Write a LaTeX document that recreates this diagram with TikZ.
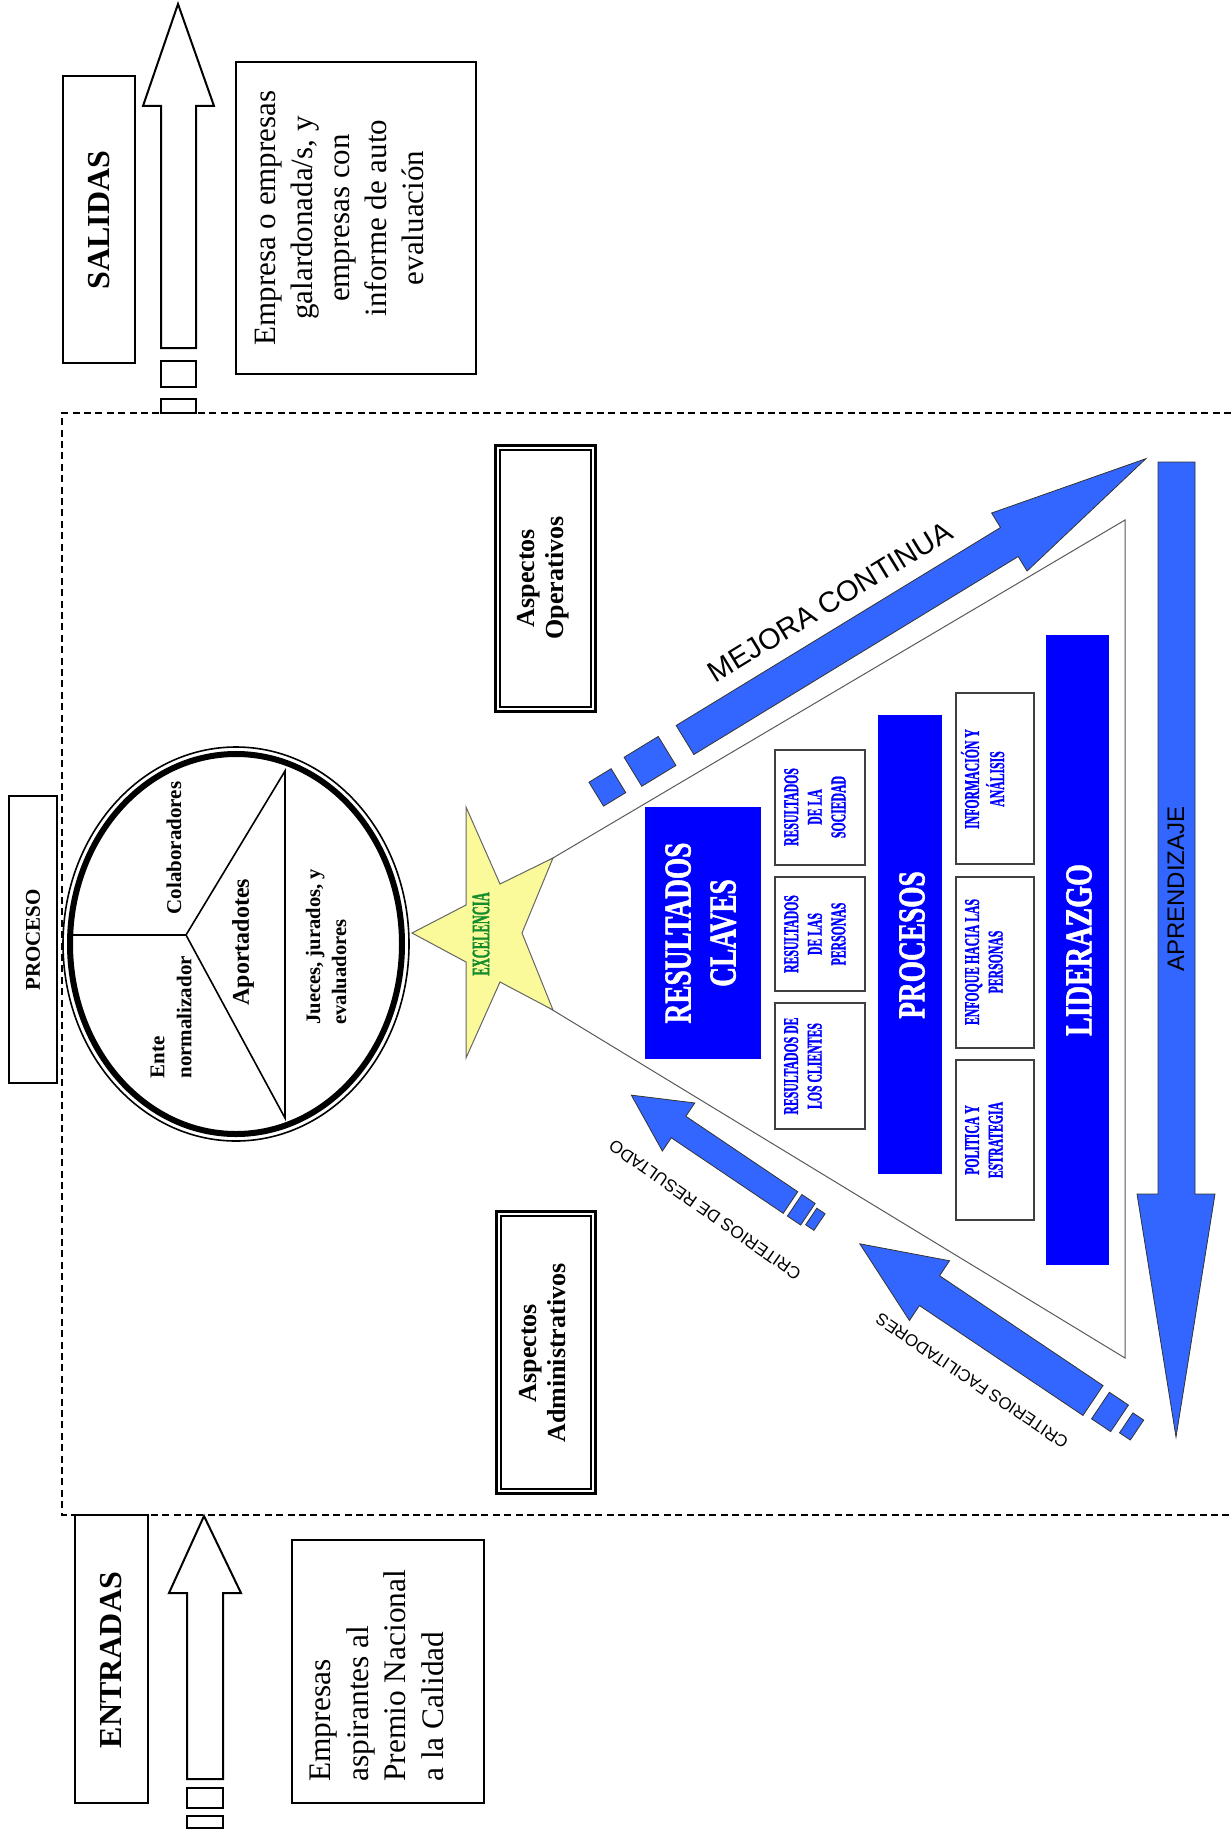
\documentclass[tikz,border=0pt]{standalone}
\usepackage{fontspec}
\setmainfont{Liberation Serif}
\newfontfamily\arial{Liberation Sans}
\newfontfamily\heavyserif{Liberation Serif Bold}[FakeBold=1.6]
\usepackage{graphicx}
\definecolor{pureblue}{RGB}{0,0,255}
\definecolor{flowblue}{RGB}{51,102,255}
\definecolor{starfill}{RGB}{250,250,155}
\definecolor{exgreen}{RGB}{20,140,45}
% condensed, centred block of lines
\newcommand{\condtxt}[2]{\scalebox{#1}[1]{\begin{tabular}{@{}c@{}}#2\end{tabular}}}
\begin{document}
\begin{tikzpicture}[x=0.5pt,y=-0.5pt,
  outline/.style={draw=black, line width=1pt},
  hollow/.style={draw=black, line width=1pt, fill=white},
  vlabel/.style={rotate=90, inner sep=0pt, align=center},
  bluebar/.style={fill=pureblue},
  critbox/.style={draw=black!75, line width=0.7pt, fill=white},
  critlabel/.style={rotate=90, inner sep=0pt, text=pureblue,
    font=\heavyserif\fontsize{10.5}{11.8}\selectfont},
  barlabel/.style={rotate=90, inner sep=0pt, text=white,
    font=\heavyserif\fontsize{19}{22.5}\selectfont},
  flowarrow/.style={fill=flowblue, draw=black!80, line width=0.4pt},
  frameline/.style={draw=black, line width=0.8pt, dash pattern=on 3.5pt off 2.2pt},
  edgeline/.style={draw=black!65, line width=0.5pt},
  dblouter/.style={draw=black, line width=1.4pt},
  dblinner/.style={draw=black, line width=0.8pt},
  arrowlabel/.style={inner sep=0pt},
]
\useasboundingbox (0,0) rectangle (1231,1835);

% ---------- outputs ----------
\draw[outline] (63,76) rectangle (135,363);
\node[vlabel, font=\bfseries\fontsize{16}{19}\selectfont] (salidas) at (99,220) {SALIDAS};
\draw[hollow] (161,348) -- (161,106) -- (143,106) -- (178,4) -- (214,106) -- (196,106) -- (196,348) -- cycle;
\draw[hollow] (161,361) rectangle (196,387);
\draw[hollow] (161,399) rectangle (196,413);
\draw[outline] (236,62) rectangle (476,374);
\node[vlabel, font=\fontsize{15.5}{18.5}\selectfont] (outtext) at (339,218)
  {Empresa o empresas\\galardonada/s, y\\empresas con\\informe de auto\\evaluación};

% ---------- process frame ----------
\draw[frameline] (1231,413) -- (62,413) -- (62,1515) -- (1231,1515);
\draw[outline] (9,796) rectangle (57,1083);
\node[vlabel, font=\bfseries\fontsize{10.5}{12}\selectfont] (proceso) at (33,940) {PROCESO};

% actors circle
\draw[line width=0.8pt] (236,944) ellipse [x radius=173, y radius=197];
\draw[line width=3pt] (236,944) ellipse [x radius=166, y radius=190];
\coordinate (hub) at (186,935);
\coordinate (wleft) at (71,935);
\coordinate (wtop) at (285,771);
\coordinate (wbot) at (285,1118);
\draw[line width=0.8pt] (wleft) -- (hub) -- (wtop) -- (wbot) -- (hub);
\node[vlabel, font=\bfseries\fontsize{10.5}{12.5}\selectfont] (colab) at (174,848) {Colaboradores};
\node[vlabel, anchor=west, align=left, font=\bfseries\fontsize{10.5}{13.5}\selectfont] (ente) at (171,1079) {Ente\\normalizador};
\node[vlabel, font=\bfseries\fontsize{12}{14}\selectfont] (aport) at (243,942) {Aportadotes};
\node[vlabel, anchor=west, align=left, font=\bfseries\fontsize{10.3}{13}\selectfont] (jueces) at (326,1025) {Jueces, jurados, y\\evaluadores};

% aspect boxes
\draw[dblouter] (495.4,445.4) rectangle (595.6,711.6);
\draw[dblinner] (500,450) rectangle (591,707);
\node[vlabel, font=\bfseries\fontsize{13}{14.5}\selectfont] (operat) at (543,578) {Aspectos\\Operativos};
\draw[dblouter] (496.4,1211.4) rectangle (595.6,1493.6);
\draw[dblinner] (501,1216) rectangle (591,1489);
\node[vlabel, font=\bfseries\fontsize{13}{14.5}\selectfont] (admin) at (543,1353) {Aspectos\\Administrativos};

% ---------- excellence model ----------
\coordinate (apex) at (426,933);
\coordinate (tritop) at (1125,520);
\coordinate (tribot) at (1125,1358);
\draw[edgeline] (apex) -- (tritop) -- (tribot) -- cycle;

\fill[pureblue] (645,807) rectangle (761,1059);
\node[barlabel] (claves) at (704,933) {\condtxt{0.72}{RESULTADOS\\CLAVES}};
\fill[pureblue] (878,715) rectangle (942,1174);
\node[barlabel] (procesos) at (912,945) {\scalebox{0.72}[1]{PROCESOS}};
\fill[pureblue] (1046,635) rectangle (1109,1265);
\node[barlabel] (lider) at (1079,950) {\scalebox{0.74}[1]{LIDERAZGO}};

\draw[critbox] (775,750) rectangle (865,865);
\node[critlabel] (rsoc) at (817,807) {\condtxt{0.56}{RESULTADOS\\DE LA\\SOCIEDAD}};
\draw[critbox] (775,877) rectangle (865,991);
\node[critlabel] (rper) at (817,934) {\condtxt{0.56}{RESULTADOS\\DE LAS\\PERSONAS}};
\draw[critbox] (775,1003) rectangle (865,1129);
\node[critlabel] (rcli) at (805,1066) {\condtxt{0.56}{RESULTADOS DE\\LOS CLIENTES}};
\draw[critbox] (956,693) rectangle (1034,864);
\node[critlabel] (info) at (986,779) {\condtxt{0.56}{INFORMACIÓN Y\\ANÁLISIS}};
\draw[critbox] (956,877) rectangle (1034,1048);
\node[critlabel] (enfo) at (986,962) {\condtxt{0.56}{ENFOQUE HACIA LAS\\PERSONAS}};
\draw[critbox] (956,1060) rectangle (1034,1220);
\node[critlabel] (poli) at (986,1140) {\condtxt{0.56}{POLITICA Y\\ESTRATEGIA}};

% star
\draw[fill=starfill, draw=black!60, line width=0.5pt]
  (412,933) -- (466,905) -- (466,807) -- (500,884) -- (553,858) -- (522,933)
  -- (553,1010) -- (500,982) -- (466,1058) -- (466,962) -- cycle;
\node[rotate=90, inner sep=0pt, text=exgreen, font=\heavyserif\fontsize{12.5}{14}\selectfont] (excel) at (481,934)
  {\scalebox{0.5}[1]{EXCELENCIA}};

% continuous improvement arrow
\begin{scope}[shift={(685,740)}, rotate=31.4]
  \draw[flowarrow] (0,-17) -- (380,-17) -- (380,-34) -- (540,0) -- (380,34) -- (380,17) -- (0,17) -- cycle;
  \draw[flowarrow] (-61,-17) rectangle (-21,17);
  \draw[flowarrow] (-104,-14) rectangle (-78,14);
\end{scope}
\node[arrowlabel, rotate=31.4, font=\arial\fontsize{14.5}{17}\selectfont] (mejora) at (830,602) {MEJORA CONTINUA};

% learning arrow
\draw[flowarrow] (1158,462) -- (1195,462) -- (1195,1194) -- (1215,1194) -- (1176,1437) -- (1137,1194) -- (1158,1194) -- cycle;
\node[arrowlabel, rotate=90, font=\arial\fontsize{12}{14}\selectfont] (aprend) at (1176,889) {APRENDIZAJE};

% result criteria arrow
\begin{scope}[shift={(790.5,1202.5)}, rotate=146]
  \draw[flowarrow] (0,-13) -- (135,-13) -- (135,-29) -- (192,0) -- (135,29) -- (135,13) -- (0,13) -- cycle;
  \draw[flowarrow] (-21,-13) rectangle (-5,13);
  \draw[flowarrow] (-35,-10) rectangle (-25,10);
\end{scope}
\node[arrowlabel, rotate=145, font=\arial\fontsize{8.6}{10}\selectfont] (critres) at (705,1210) {CRITERIOS DE RESULTADO};

% enabler criteria arrow
\begin{scope}[shift={(1093,1400.5)}, rotate=146.1]
  \draw[flowarrow] (0,-18) -- (197,-18) -- (197,-36) -- (281,0) -- (197,36) -- (197,18) -- (0,18) -- cycle;
  \draw[flowarrow] (-32,-16) rectangle (-9,16);
  \draw[flowarrow] (-53,-12) rectangle (-40,12);
\end{scope}
\node[arrowlabel, rotate=146, font=\arial\fontsize{8.4}{10}\selectfont] (critfac) at (972,1381) {CRITERIOS FACILITADORES};

% ---------- inputs ----------
\draw[outline] (75,1515) rectangle (148,1803);
\node[vlabel, font=\bfseries\fontsize{16}{19}\selectfont] (entradas) at (111,1660) {ENTRADAS};
\draw[hollow] (187,1779) -- (187,1593) -- (169,1593) -- (204,1516) -- (241,1593) -- (223,1593) -- (223,1779) -- cycle;
\draw[hollow] (187,1788) rectangle (223,1808);
\draw[hollow] (187,1816) rectangle (223,1828);
\draw[outline] (292,1540) rectangle (484,1803);
\node[vlabel, anchor=west, align=left, font=\fontsize{15.7}{18.8}\selectfont] (intext) at (377,1782)
  {Empresas\\aspirantes al\\Premio Nacional\\a la Calidad};
\end{tikzpicture}
\end{document}
